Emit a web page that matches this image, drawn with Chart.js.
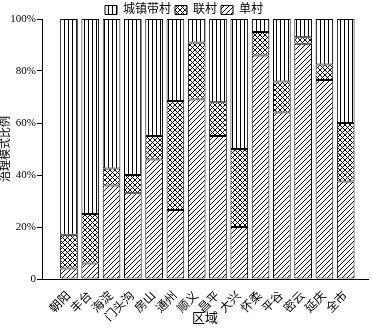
<!DOCTYPE html>
<html>
<head>
<meta charset="utf-8">
<script src="https://cdn.jsdelivr.net/npm/chart.js@4"></script>
<style>
  html, body { margin: 0; padding: 0; background: #fff; }
  #wrap { width: 372px; height: 330px; }
</style>
</head>
<body>
<div id="wrap"><canvas id="myChart" width="372" height="330"></canvas></div>
<script>
const categories = ['朝阳', '丰台', '海淀', '门头沟', '房山', '通州', '顺义', '昌平', '大兴', '怀柔', '平谷', '密云', '延庆', '全市']
// percent of each mode, bottom to top
const singleVillage = [4, 6, 36, 33, 46, 26.5, 69, 55, 20, 86, 64, 90.5, 76.5, 37.5]
const jointVillage = [13, 19, 6.5, 7, 9, 42, 22, 13, 30, 9, 12, 2.5, 6, 22.5]
const townVillage = [83, 75, 57.5, 60, 45, 31.5, 9, 32, 50, 5, 24, 7, 17.5, 40]
const yTicks = [0, 20, 40, 60, 80, 100]

const FONT = "'Liberation Serif', 'Times New Roman', 'Noto Sans CJK SC', serif"

function makePattern(kind){
    const c = document.createElement('canvas')
    const size = kind === 'vert' ? 4 : 5
    c.width = size
    c.height = size
    const g = c.getContext('2d')
    g.fillStyle = '#fff'
    g.fillRect(0, 0, size, size)
    g.strokeStyle = '#000'
    g.lineWidth = 1
    g.beginPath()
    if (kind === 'vert') {
        g.moveTo(0.5, 0)
        g.lineTo(0.5, size)
    } else if (kind === 'diag') {
        g.moveTo(0, size)
        g.lineTo(size, 0)
        g.moveTo(-1, 1)
        g.lineTo(1, -1)
        g.moveTo(size - 1, size + 1)
        g.lineTo(size + 1, size - 1)
    } else {
        g.moveTo(0, size)
        g.lineTo(size, 0)
        g.moveTo(0, 0)
        g.lineTo(size, size)
    }
    g.stroke()
    return g.createPattern(c, 'repeat')
}

const legendFit = {
    id: 'legendFit',
    beforeInit(chart){
        const orig = chart.legend.fit
        chart.legend.fit = function(){
            orig.bind(chart.legend)()
            this.height = 19
        }
    }
}

function chart(){
    const toPoints = (arr) => arr.map((v, i) => ({x: i, y: v}))
    const common = {borderColor: '#000', borderWidth: 1, borderSkipped: false, barPercentage: 0.83, categoryPercentage: 1}
    const data = {
        datasets: [
            Object.assign({label: '单村', data: toPoints(singleVillage), backgroundColor: makePattern('diag')}, common),
            Object.assign({label: '联村', data: toPoints(jointVillage), backgroundColor: makePattern('cross')}, common),
            Object.assign({label: '城镇带村', data: toPoints(townVillage), backgroundColor: makePattern('vert')}, common)
        ]
    }
    const config = {
        type: 'bar',
        data: data,
        plugins: [legendFit],
        options: {
            responsive: false,
            animation: false,
            layout: {padding: {left: 0, right: 4, top: 0, bottom: 0}},
            plugins: {
                tooltip: {enabled: false},
                legend: {
                    reverse: true,
                    labels: {
                        color: '#000',
                        font: {family: FONT, size: 12},
                        boxWidth: 12,
                        boxHeight: 9,
                        padding: 4
                    }
                }
            },
            scales: {
                x: {
                    type: 'linear',
                    stacked: true,
                    min: -0.72,
                    max: 13.5,
                    afterBuildTicks: (s) => { s.ticks = categories.map((c, i) => ({value: i})) },
                    afterFit: (s) => { s.height = 51 },
                    grid: {display: false},
                    border: {display: true, color: '#000', width: 1},
                    ticks: {
                        autoSkip: false,
                        minRotation: 45,
                        maxRotation: 45,
                        padding: 2,
                        color: '#000',
                        font: {family: FONT, size: 12},
                        callback: (v) => categories[v] || ''
                    },
                    title: {display: true, text: '区域', color: '#000', font: {family: FONT, size: 13, lineHeight: 1}, padding: {top: 0, bottom: 5}}
                },
                y: {
                    stacked: true,
                    min: 0,
                    max: 100,
                    afterBuildTicks: (s) => { s.ticks = yTicks.map((v) => ({value: v})) },
                    afterFit: (s) => { s.width = 42 },
                    grid: {display: true, drawOnChartArea: false, drawTicks: true, tickLength: 5, color: '#000'},
                    border: {display: true, color: '#000', width: 1},
                    ticks: {
                        padding: 1,
                        color: '#000',
                        font: {family: FONT, size: 11},
                        callback: (v) => v === 0 ? '0' : v + '%'
                    },
                    title: {display: true, text: '治理模式比例', color: '#000', font: {family: FONT, size: 11, lineHeight: 1}, padding: {top: 1, bottom: 0}}
                }
            }
        }
    }
    return new Chart(document.getElementById('myChart'), config)
}

document.addEventListener('DOMContentLoaded', () => chart())
</script>
</body>
</html>
